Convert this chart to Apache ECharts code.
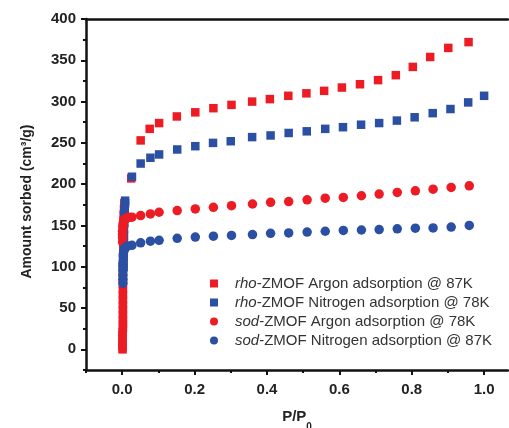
<!DOCTYPE html>
<html>
<head>
<meta charset="utf-8">
<script src="https://cdn.jsdelivr.net/npm/echarts@6/dist/echarts.min.js"></script>
<style>
  html, body { margin: 0; padding: 0; background: #fff; }
  #main { width: 509px; height: 428px; }
</style>
</head>
<body>
<div id="main"></div>
<script>
// legend names
var seriesNames = [
	'rho-ZMOF Argon adsorption @ 87K',
	'rho-ZMOF Nitrogen adsorption @ 78K',
	'sod-ZMOF Argon adsorption @ 78K',
	'sod-ZMOF Nitrogen adsorption @ 87K'
];

// rho-ZMOF Ar (red squares)
var rhoArX = [0.001, 0.001, 0.001, 0.001, 0.001, 0.001, 0.001, 0.002, 0.002, 0.002, 0.002, 0.002, 0.002, 0.002, 0.002, 0.002, 0.002, 0.002, 0.002, 0.002, 0.003, 0.003, 0.003, 0.003, 0.003, 0.003, 0.004, 0.004, 0.004, 0.005, 0.006,
	0.025, 0.051, 0.076, 0.102, 0.151, 0.202, 0.252, 0.302, 0.359, 0.408, 0.459, 0.509, 0.558, 0.607, 0.657, 0.707, 0.756, 0.803, 0.851, 0.901, 0.957];
var rhoArY = [0, 3, 6, 9, 13, 17, 21, 26, 31, 36, 42, 48, 54, 60, 66, 72, 79, 86, 93, 100, 107, 114, 121, 128, 135, 142, 149, 156, 163, 170, 177,
	207, 253, 267, 274, 282, 287, 292, 296, 300, 303, 307, 310, 313, 317, 321, 326, 332, 342, 354, 365, 372];

// rho-ZMOF N2 (blue squares)
var rhoN2X = [0.004, 0.004, 0.005, 0.005, 0.005, 0.006, 0.006, 0.006, 0.007, 0.007, 0.008, 0.008,
	0.027, 0.051, 0.078, 0.102, 0.152, 0.202, 0.251, 0.300, 0.359, 0.410, 0.460, 0.510, 0.561, 0.610, 0.660, 0.710, 0.759, 0.808, 0.858, 0.907, 0.956, 1.0];
var rhoN2Y = [100, 115, 128, 138, 146, 153, 159, 164, 169, 173, 177, 180,
	209, 225, 232, 236, 242, 246, 250, 252, 257, 259, 262, 264, 267, 269, 272, 274, 277, 281, 286, 291, 299, 307];

// sod-ZMOF Ar (red circles)
var sodArX = [0.001, 0.001, 0.001, 0.001, 0.002, 0.002, 0.003, 0.004, 0.006, 0.009, 0.013, 0.018,
	0.027, 0.051, 0.078, 0.102, 0.152, 0.202, 0.252, 0.302, 0.360, 0.410, 0.460, 0.511, 0.561, 0.611, 0.661, 0.710, 0.760, 0.810, 0.859, 0.909, 0.959];
var sodArY = [130, 135, 139, 143, 147, 150, 153, 155, 157, 158, 159, 160,
	160, 162, 164, 166, 168, 170, 172, 174, 176, 178, 179, 181, 183, 184, 186, 188, 190, 192, 194, 196, 198];

// sod-ZMOF N2 (blue circles)
var sodN2X = [0.002, 0.002, 0.002, 0.002, 0.002, 0.002, 0.003, 0.003, 0.003, 0.004, 0.005, 0.007, 0.010, 0.015,
	0.027, 0.051, 0.078, 0.102, 0.152, 0.202, 0.252, 0.302, 0.360, 0.410, 0.460, 0.511, 0.561, 0.611, 0.661, 0.710, 0.760, 0.810, 0.859, 0.909, 0.959];
var sodN2Y = [80, 85, 90, 95, 100, 104, 108, 112, 115, 118, 120, 122, 124, 125,
	126, 129, 131, 132, 134.5, 136, 137, 138, 139, 140.5, 141, 142, 143, 144, 144.5, 145, 146, 146.7, 147, 148, 150];

// ticks
var xLabelTicks = [0, 0.2, 0.4, 0.6, 0.8, 1.0];
var xMinorTicks = [-0.1, 0.1, 0.3, 0.5, 0.7, 0.9];
var yLabelTicks = [0, 50, 100, 150, 200, 250, 300, 350, 400];
var yMinorTicks = [-25, 25, 75, 125, 175, 225, 275, 325, 375];

var red = '#ed1c24';
var blue = '#2b4fa3';
var fontName = 'Liberation Sans, Arial, sans-serif';

function pairs(xs, ys) {
	var out = [];
	xs.forEach(function(x, i) {
		out.push([x, ys[i]]);
	});
	return out;
}

var myChart = echarts.init(document.getElementById('main'));

var labelFont = {
	fontFamily: fontName,
	fontWeight: 'bold',
	fontSize: 15,
	color: '#222'
};

// x range is cut at the right edge of the picture
var xMin = -0.1, xMax = 1.066;

var option = {
	backgroundColor: '#fff',
	animation: false,
	grid: {
		left: 86,
		top: 19,
		right: 1,
		height: 351,
		outerBoundsMode: 'none',
		containLabel: false
	},
	legend: {
		orient: 'vertical',
		left: 205,
		top: 271,
		itemWidth: 8,
		itemHeight: 8,
		itemGap: 4,
		selectedMode: false,
		data: [
			{ name: seriesNames[0], icon: 'rect' },
			{ name: seriesNames[1], icon: 'rect' },
			{ name: seriesNames[2], icon: 'circle' },
			{ name: seriesNames[3], icon: 'circle' }
		],
		formatter: function(name) {
			var k = name.indexOf('-');
			return '{i|' + name.slice(0, k) + '}' + name.slice(k);
		},
		textStyle: {
			fontFamily: fontName,
			fontSize: 15,
			color: '#333',
			padding: [0, 0, 0, 12],
			rich: {
				i: {
					fontFamily: fontName,
					fontSize: 15,
					fontStyle: 'italic',
					color: '#333'
				}
			}
		}
	},
	xAxis: [
		{
			type: 'value',
			min: xMin,
			max: xMax,
			name: '{b|P/P}{s|0}',
			nameLocation: 'middle',
			nameGap: 39,
			nameTextStyle: {
				rich: {
					b: { fontFamily: fontName, fontWeight: 'bold', fontSize: 15, color: '#222' },
					s: { fontFamily: fontName, fontWeight: 'bold', fontSize: 10, color: '#222', verticalAlign: 'bottom', padding: [0, 0, -8, 0] }
				}
			},
			splitLine: { show: false },
			axisLine: { onZero: false, lineStyle: { color: '#111', width: 2.5 } },
			axisTick: { customValues: xLabelTicks, length: 5, lineStyle: { color: '#111', width: 2 } },
			axisLabel: Object.assign({
				customValues: xLabelTicks,
				margin: 12,
				formatter: function(v) { return v.toFixed(1); }
			}, labelFont)
		},
		{
			type: 'value',
			min: xMin,
			max: xMax,
			position: 'bottom',
			splitLine: { show: false },
			axisLine: { show: false, onZero: false },
			axisTick: { customValues: xMinorTicks, length: 3, lineStyle: { color: '#111', width: 2 } },
			axisLabel: { show: false }
		},
		{
			// top frame line
			type: 'value',
			min: xMin,
			max: xMax,
			position: 'top',
			splitLine: { show: false },
			axisLine: { show: true, onZero: false, lineStyle: { color: '#111', width: 2.5 } },
			axisTick: { show: false },
			axisLabel: { show: false }
		}
	],
	yAxis: [
		{
			type: 'value',
			min: -25,
			max: 400,
			name: 'Amount sorbed (cm³/g)',
			nameLocation: 'middle',
			nameGap: 52,
			nameTextStyle: {
				fontFamily: fontName,
				fontWeight: 'bold',
				fontSize: 14,
				color: '#222',
				padding: [0, 14, 0, 0]
			},
			splitLine: { show: false },
			axisLine: { onZero: false, lineStyle: { color: '#111', width: 2.5 } },
			axisTick: { customValues: yLabelTicks, length: 5, lineStyle: { color: '#111', width: 2 } },
			axisLabel: Object.assign({
				customValues: yLabelTicks,
				margin: 10
			}, labelFont)
		},
		{
			type: 'value',
			min: -25,
			max: 400,
			position: 'left',
			splitLine: { show: false },
			axisLine: { show: false, onZero: false },
			axisTick: { customValues: yMinorTicks, length: 3, lineStyle: { color: '#111', width: 2 } },
			axisLabel: { show: false }
		}
	],
	series: [
		{
			name: seriesNames[0],
			type: 'scatter',
			symbol: 'rect',
			symbolSize: 8.5,
			itemStyle: { color: red, opacity: 1 },
			data: pairs(rhoArX, rhoArY)
		},
		{
			name: seriesNames[1],
			type: 'scatter',
			symbol: 'rect',
			symbolSize: 8.5,
			itemStyle: { color: blue, opacity: 1 },
			data: pairs(rhoN2X, rhoN2Y)
		},
		{
			name: seriesNames[2],
			type: 'scatter',
			symbol: 'circle',
			symbolSize: 9.5,
			itemStyle: { color: red, opacity: 1 },
			data: pairs(sodArX, sodArY)
		},
		{
			name: seriesNames[3],
			type: 'scatter',
			symbol: 'circle',
			symbolSize: 9.5,
			itemStyle: { color: blue, opacity: 1 },
			data: pairs(sodN2X, sodN2Y)
		}
	]
};
myChart.setOption(option, true);
</script>
</body>
</html>
